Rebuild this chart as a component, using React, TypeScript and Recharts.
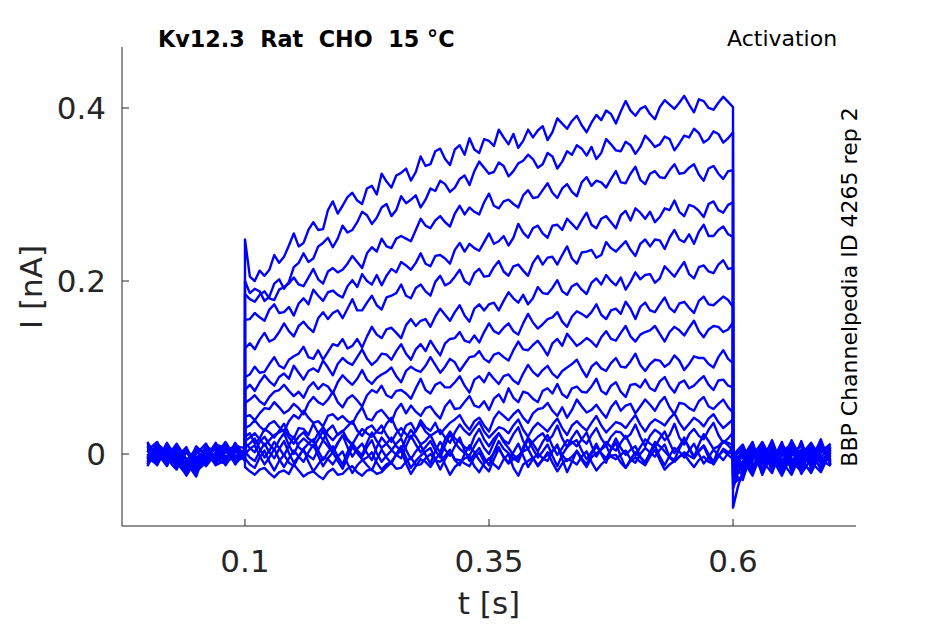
import { LineChart, Line, XAxis, YAxis } from "recharts";

/* ================= DATA (pA) ================= */

// sample times [s], 5 ms grid
const preTimes = Array.from({ length: 21 }, (_, i) => +(i * 0.005).toFixed(3));
const pulseTimes = Array.from({ length: 101 }, (_, i) => +(0.1 + i * 0.005).toFixed(3));
const postTimes = Array.from({ length: 21 }, (_, i) => +(0.6 + i * 0.005).toFixed(3));

const xTicks = [0.1, 0.35, 0.6];
const yTicks = [0, 0.2, 0.4];

// holding before the step: values at 0, 10, ... 100 ms
const preBase = [
  [5, -8, 10, -12, -20, 2, -6, 12, -4, 8, 0],
  [-6, 12, -3, -18, 6, -10, 9, -5, 14, -2, 3],
  [10, -4, 6, -9, -24, -7, 4, -12, 7, -8, 5],
  [-10, 3, -14, 8, -16, 9, -2, 6, -9, 11, -3],
  [2, 14, -7, 4, -12, -22, 10, -8, 3, -6, 6],
  [-3, -12, 9, -6, 3, -14, -5, 13, -10, 4, -5],
  [12, -2, -10, 11, -18, 5, -11, 2, 9, -12, 2],
  [-8, 7, 2, -15, -9, -26, 6, -4, -7, 12, -2],
  [4, -10, 13, -4, 8, -17, -8, 10, -3, -4, 4],
  [-12, 5, -6, 7, -21, 0, 12, -9, 5, 7, -6],
  [8, -6, 4, -13, 2, -11, -3, 7, -13, 2, 1],
  [-4, 10, -11, 3, -7, 6, -14, -1, 11, -9, -4],
  [14, -7, 7, -2, -25, -5, 3, -10, 2, 10, 7],
  [-9, 2, -4, 12, -6, -19, 8, 4, -6, -5, -1],
  [0, -13, 11, -8, 5, -9, -7, 11, 8, -10, 3],
  [-14, 6, -1, 5, -14, 7, 2, -6, -11, 6, -7],
  [6, -3, 8, -11, -8, -20, -10, 9, 4, -3, 2],
  [-2, 9, -9, 2, -23, -4, 5, -13, -8, 13, -9],
];
// holding before the step: values at 5, 15, ... 95 ms
const preHalf = [
  [2, -1, -9, -15, -8, 5, 3, -6, 2, 4],
  [4, 7, -12, -6, -3, -2, 1, 6, 5, -1],
  [3, 1, -2, -17, -15, -3, -5, -1, -2, -2],
  [-4, -6, -2, -5, -3, 3, 2, -3, 1, 4],
  [9, 3, -1, -5, -18, -6, 1, -3, -2, 0],
  [-8, -2, 1, -2, -6, -10, 4, 1, -3, -1],
  [5, -6, 0, -4, -7, -3, -4, 6, -2, -5],
  [-1, 5, -7, -12, -18, -10, 1, -6, 2, 5],
  [-3, 2, 4, 2, -5, -12, 1, 4, -4, 0],
  [-3, -1, 1, -8, -10, 6, 2, -2, 6, 1],
  [1, -1, -5, -6, -5, -7, 2, -3, -5, 2],
  [3, -1, -4, -2, -1, -4, -7, 5, 1, -6],
  [4, 0, 2, -14, -15, -1, -4, -4, 6, 8],
  [-3, -1, 4, 3, -12, -5, 6, -1, -6, -3],
  [-6, -1, 1, -2, -2, -8, 2, 9, -1, -4],
  [-4, 2, 2, -5, -4, 4, -2, -9, -3, -1],
  [2, 3, -2, -10, -14, -15, 0, 6, 0, -1],
  [4, 0, -4, -11, -13, 0, -4, -10, 2, 2],
];

// back to holding: values at 600, 610, ... 700 ms
const postBase = [
  [-62, -20, 5, -10, 8, -15, 3, -8, 12, -5, 0],
  [-40, -8, -25, 6, -12, 10, -18, 4, -6, 9, -10],
  [-35, -28, 2, -16, -4, 7, -9, -20, 5, -3, 6],
  [-30, 4, -18, -2, 12, -22, 0, 9, -13, 6, -4],
  [-28, -14, -6, 10, -20, 3, 11, -7, -2, -15, 8],
  [-25, -30, 8, -12, 1, -8, -24, 2, 10, -9, -2],
  [-22, 0, -20, 4, -14, 12, -5, -11, -19, 3, 10],
  [-20, -18, 10, -24, 6, -3, 8, -16, 0, 11, -12],
  [-18, 6, -12, -7, -22, 9, -14, 5, -9, -21, 2],
  [-15, -24, -3, 14, -8, -17, 4, -2, 13, -6, -14],
  [-12, -10, 12, -19, 3, -6, -12, 15, -17, 4, 7],
  [-10, 2, -22, 0, -11, 14, -20, -4, 7, -11, -1],
  [-8, -16, 4, -9, 16, -13, 6, -23, -5, 14, -7],
  [-6, 8, -14, 7, -17, -1, 13, -9, 3, -18, 5],
  [-5, -21, -8, 11, -5, -25, -2, 10, -14, 8, -9],
  [-3, -5, 14, -20, 9, -11, 16, -6, -22, 1, 12],
  [-2, 11, -16, -4, -13, 5, -8, -17, 9, -8, -5],
  [0, -12, 6, -23, 0, -19, 10, 1, -10, 17, -13],
];
// back to holding: values at 605, 615, ... 695 ms
const postHalf = [
  [-38, -8, -3, 0, -4, -6, -3, 2, 4, -3],
  [-22, -16, -10, -3, -1, -4, -7, -1, 2, -1],
  [-30, -13, -7, -10, 2, -1, -14, -7, 1, 2],
  [-14, -7, -10, 5, -5, -11, 5, -2, -4, 1],
  [-21, -10, 2, -5, -8, 7, 2, -5, -9, -3],
  [-27, -11, -2, -6, -3, -16, -11, 6, 0, -6],
  [-11, -10, -8, -5, -1, 3, -8, -15, -8, 7],
  [-19, -4, -7, -9, 1, 2, -4, -8, 6, -1],
  [-6, -3, -10, -15, -6, -2, -4, -2, -15, -9],
  [-20, -13, 6, 3, -12, -6, 1, 6, 3, -10],
  [-11, 1, -4, -8, -1, -9, 1, -1, -6, 6],
  [-4, -10, -11, -6, 2, -3, -12, 2, -2, -6],
  [-12, -6, -3, 4, 1, -3, -8, -14, 5, 3],
  [1, -3, -4, -5, -9, 6, 2, -3, -7, -6],
  [-13, -15, 2, 3, -15, -13, 4, -2, -3, -1],
  [-4, 5, -3, -6, -1, 3, 5, -14, -10, 7],
  [5, -3, -10, -9, -4, -2, -12, -4, 0, -7],
  [-6, -3, -8, -11, -10, -5, 6, -4, 4, 1],
];

// test step: values at 100, 110, ... 600 ms
const sweep01 = [248, 200, 206, 230, 228, 255, 244, 268, 260, 292, 287, 302, 289, 310, 324, 308, 325, 316, 344, 335, 353, 334, 357, 365, 348, 362, 375, 358, 354, 375, 374, 363, 388, 376, 391, 372, 392, 397, 382, 408, 391, 402, 387, 409, 399, 414, 395, 408, 398, 413, 401];
const sweep02 = [200, 191, 177, 197, 191, 216, 232, 226, 244, 239, 264, 259, 280, 266, 285, 275, 298, 294, 285, 307, 316, 303, 318, 311, 338, 324, 337, 321, 336, 346, 331, 348, 330, 350, 357, 345, 341, 364, 351, 361, 347, 368, 355, 367, 351, 368, 376, 360, 373, 360, 372];
const sweep03 = [185, 176, 188, 178, 193, 204, 194, 214, 197, 215, 213, 229, 215, 239, 249, 238, 252, 246, 272, 261, 275, 263, 287, 285, 277, 301, 284, 294, 285, 305, 297, 313, 296, 312, 298, 320, 316, 308, 327, 313, 332, 312, 327, 319, 335, 325, 335, 316, 333, 318, 328];
const sweep04 = [155, 163, 154, 173, 164, 160, 180, 190, 177, 189, 181, 201, 208, 196, 195, 214, 222, 213, 232, 217, 230, 220, 244, 243, 235, 255, 246, 241, 266, 250, 264, 250, 265, 272, 260, 279, 261, 275, 261, 281, 284, 272, 268, 284, 293, 275, 286, 274, 292, 279, 291];
const sweep05 = [122, 121, 140, 133, 151, 136, 153, 141, 164, 163, 157, 179, 166, 183, 167, 183, 196, 180, 196, 183, 206, 198, 213, 196, 214, 206, 223, 206, 219, 206, 229, 227, 219, 240, 220, 234, 227, 245, 234, 246, 229, 248, 248, 237, 259, 245, 243, 265, 252, 263, 251];
const sweep06 = [89, 101, 95, 112, 99, 113, 124, 110, 109, 127, 133, 125, 123, 147, 134, 146, 134, 156, 154, 147, 168, 154, 172, 153, 173, 173, 166, 187, 175, 173, 193, 185, 201, 184, 197, 185, 203, 207, 195, 190, 210, 207, 198, 217, 205, 222, 203, 218, 209, 224, 215];
const sweep07 = [74, 73, 91, 79, 93, 102, 86, 99, 108, 91, 111, 103, 121, 103, 116, 109, 127, 109, 127, 131, 114, 133, 141, 129, 129, 151, 139, 151, 138, 162, 145, 156, 164, 147, 165, 158, 173, 156, 168, 176, 156, 175, 164, 181, 164, 176, 163, 182, 172, 182, 170];
const sweep08 = [59, 68, 57, 72, 80, 67, 65, 83, 81, 70, 91, 80, 97, 81, 92, 100, 83, 101, 95, 112, 94, 110, 96, 112, 119, 106, 117, 108, 130, 120, 131, 114, 133, 139, 125, 134, 124, 142, 131, 148, 130, 141, 148, 130, 147, 137, 154, 135, 148, 141, 152];
const sweep09 = [43, 39, 53, 60, 47, 58, 46, 66, 57, 72, 54, 68, 55, 74, 79, 65, 74, 64, 87, 70, 83, 77, 90, 71, 90, 94, 81, 92, 81, 103, 90, 102, 88, 100, 109, 89, 106, 96, 111, 100, 116, 96, 109, 101, 114, 97, 113, 111, 100, 120, 105];
const sweep10 = [30, 39, 27, 38, 26, 45, 50, 36, 32, 46, 44, 35, 54, 39, 51, 37, 58, 56, 44, 55, 41, 62, 53, 67, 54, 51, 69, 76, 60, 70, 60, 76, 81, 65, 78, 71, 87, 69, 83, 66, 81, 86, 73, 89, 71, 85, 79, 90, 74, 86, 77];
const sweep11 = [20, 12, 29, 19, 35, 18, 29, 35, 16, 33, 26, 38, 21, 33, 24, 42, 20, 36, 39, 27, 23, 36, 45, 28, 42, 26, 49, 39, 51, 36, 52, 59, 44, 42, 63, 48, 57, 42, 61, 56, 47, 63, 50, 66, 46, 58, 50, 66, 52, 63, 48];
const sweep12 = [15, 24, 10, 22, 28, 12, 25, 14, 31, 16, 27, 11, 29, 20, 33, 14, 30, 18, 35, 21, 28, 13, 34, 22, 37, 19, 31, 24, 40, 20, 36, 26, 41, 22, 38, 27, 44, 25, 37, 30, 45, 26, 40, 33, 47, 28, 42, 32, 46, 30, 40];
const sweep13 = [12, 2, 20, 5, 24, 0, 18, 8, 27, 3, 21, 10, -1, 25, 7, 19, 4, 28, 11, 22, 2, 26, 14, 5, 29, 9, 24, 12, 31, 6, 20, 15, 33, 8, 27, 12, 30, 10, 26, 18, 34, 9, 28, 16, 35, 11, 29, 17, 36, 13, 25];
const sweep14 = [8, 18, -4, 14, -2, 20, 3, -6, 16, 1, 22, -3, 12, -7, 19, 5, -5, 21, 2, 15, -4, 23, 6, -2, 18, 0, 24, 7, -6, 19, 3, 22, -1, 16, 9, 25, -3, 14, 4, 21, -2, 17, 8, 26, 1, 19, -4, 23, 6, 15, 10];
const sweep15 = [3, -8, 12, -5, 15, -10, 6, 17, -7, 9, -12, 13, -3, 16, -9, 4, 18, -6, 10, -11, 14, -2, 19, -8, 7, -13, 15, 1, -9, 17, -4, 11, -14, 8, 16, -6, 12, -10, 18, -1, 9, -12, 14, 3, -7, 17, -3, 10, -9, 15, 4];
const sweep16 = [0, 10, -12, 6, -15, 4, -9, 11, -14, 2, -17, 8, -6, -19, 5, -11, 9, -16, -2, 7, -18, 3, -13, 10, -7, -20, 6, -10, 12, -15, 1, -8, 11, -21, 4, -12, 9, -5, 13, -16, 2, -9, 10, -13, 7, -4, 12, -11, 5, -7, 8];
const sweep17 = [-5, -16, 4, -19, -1, -14, 6, -20, -4, -12, 3, -22, -7, 2, -18, -9, 4, -23, -6, -15, 1, -24, -10, -3, -21, -5, -17, 0, -25, -8, -14, 2, -20, -6, -12, 3, -19, -7, -1, -16, -4, -13, 5, -18, -8, 0, -15, -3, -11, 4, -6];
const sweep18 = [-15, -24, -16, -27, -19, -12, -26, -20, -29, -17, -23, -14, -25, -18, -21, -10, -16, -4, -12, 0, -9, 5, -7, -14, 2, -6, 8, -11, -2, 6, -13, -1, 9, -8, 3, -15, 1, 10, -6, 4, -10, 7, -3, 11, -9, 2, -5, 9, -12, 6, 0];

// test step: values at 105, 115, ... 595 ms
const sweep01h = [205, 212, 213, 221, 241, 240, 259, 259, 282, 278, 297, 293, 307, 300, 315, 322, 330, 326, 333, 350, 341, 352, 346, 352, 364, 356, 366, 370, 362, 366, 379, 372, 382, 385, 380, 383, 386, 393, 396, 397, 399, 393, 401, 404, 406, 404, 410, 400, 406, 407];
const sweep02h = [186, 188, 182, 202, 199, 221, 222, 240, 250, 249, 256, 268, 276, 273, 289, 282, 290, 299, 294, 304, 312, 308, 322, 327, 331, 326, 333, 327, 339, 341, 335, 344, 338, 346, 353, 355, 348, 358, 350, 357, 355, 362, 358, 364, 359, 366, 371, 364, 370, 365];
const sweep03h = [179, 184, 180, 190, 197, 196, 204, 202, 211, 210, 220, 222, 232, 234, 240, 249, 249, 259, 264, 270, 268, 278, 277, 280, 291, 287, 292, 289, 299, 296, 305, 302, 307, 303, 314, 310, 314, 318, 314, 324, 317, 324, 320, 328, 324, 331, 323, 330, 324, 327];
const sweep04h = [156, 158, 167, 163, 170, 174, 173, 183, 187, 184, 194, 193, 200, 207, 206, 210, 218, 221, 220, 229, 226, 236, 234, 238, 245, 243, 252, 250, 256, 261, 255, 264, 259, 266, 270, 265, 272, 268, 276, 270, 279, 280, 274, 282, 280, 288, 281, 289, 282, 288];
const sweep05h = [128, 132, 130, 141, 142, 148, 146, 157, 156, 166, 168, 166, 175, 172, 181, 186, 183, 192, 188, 199, 195, 205, 200, 209, 205, 216, 211, 217, 212, 221, 219, 228, 230, 226, 233, 236, 230, 238, 240, 236, 243, 240, 247, 250, 248, 254, 257, 252, 259, 254];
const sweep06h = [92, 94, 104, 102, 109, 116, 112, 120, 118, 125, 122, 133, 136, 138, 144, 140, 149, 148, 156, 159, 161, 164, 160, 168, 166, 175, 177, 180, 184, 180, 186, 192, 188, 194, 190, 198, 196, 200, 204, 199, 202, 208, 203, 211, 214, 208, 216, 211, 219, 214];
const sweep07h = [80, 83, 84, 89, 87, 94, 96, 95, 100, 104, 106, 112, 110, 108, 115, 119, 116, 121, 119, 122, 128, 134, 131, 137, 141, 142, 146, 142, 151, 152, 150, 158, 153, 159, 162, 164, 161, 166, 162, 168, 170, 166, 173, 169, 174, 169, 177, 173, 177, 178];
const sweep08h = [63, 61, 66, 74, 73, 72, 77, 75, 78, 83, 85, 87, 86, 88, 95, 90, 96, 97, 102, 103, 101, 106, 104, 113, 110, 115, 112, 120, 121, 126, 123, 128, 125, 132, 129, 130, 135, 133, 140, 136, 138, 143, 139, 141, 143, 146, 142, 144, 147, 144];
const sweep09h = [45, 47, 52, 54, 51, 53, 59, 60, 63, 60, 64, 62, 68, 71, 68, 73, 70, 76, 74, 80, 77, 83, 79, 86, 83, 87, 90, 85, 93, 95, 97, 93, 96, 104, 98, 101, 99, 105, 101, 107, 103, 104, 108, 105, 108, 104, 111, 104, 112, 110];
const sweep10h = [33, 32, 35, 31, 38, 41, 42, 38, 44, 40, 38, 46, 41, 48, 44, 51, 47, 49, 53, 47, 55, 52, 60, 56, 61, 64, 60, 65, 72, 64, 73, 70, 69, 76, 72, 78, 73, 79, 72, 80, 77, 76, 84, 78, 82, 76, 85, 80, 85, 79];
const sweep11h = [24, 18, 25, 27, 23, 30, 22, 24, 28, 22, 32, 27, 30, 25, 35, 29, 33, 26, 31, 36, 30, 40, 35, 38, 33, 41, 44, 46, 42, 47, 53, 50, 54, 51, 55, 51, 49, 54, 50, 58, 55, 57, 60, 54, 59, 53, 61, 55, 58, 54];
const sweep12h = [19, 17, 16, 25, 19, 20, 18, 24, 22, 23, 17, 21, 24, 26, 22, 24, 23, 27, 26, 25, 19, 25, 27, 30, 26, 25, 29, 33, 28, 30, 31, 34, 30, 33, 32, 36, 33, 31, 35, 38, 34, 35, 37, 41, 36, 35, 38, 41, 37, 35];
const sweep13h = [7, 14, 11, 16, 10, 12, 13, 17, 14, 13, 16, 4, 13, 15, 12, 9, 18, 20, 15, 10, 17, 18, 8, 20, 17, 18, 16, 23, 15, 14, 24, 21, 18, 19, 17, 22, 18, 20, 25, 23, 20, 21, 24, 22, 19, 23, 21, 28, 22, 18];
const sweep14h = [12, 6, 4, 7, 10, 8, -2, 5, 9, 12, 8, 6, 1, 8, 12, -1, 9, 11, 8, 4, 10, 13, 1, 9, 7, 13, 14, -1, 8, 12, 14, 9, 7, 14, 17, 10, 6, 8, 13, 10, 8, 12, 18, 13, 9, 6, 11, 15, 9, 13];
const sweep15h = [-4, 3, 2, 6, 1, -3, 12, 4, 2, -3, 2, 4, 8, 1, -2, 12, 5, 3, -1, 4, 5, 9, 4, 0, -4, 2, 6, -5, 5, 6, 3, -2, -1, 13, 4, 2, 0, 6, 7, 5, -3, 2, 9, -3, 6, 8, 4, 0, 5, 10];
const sweep16h = [6, -2, -4, -6, -5, -3, 2, -2, -5, -8, -4, 1, -13, -6, -4, 0, -4, -8, 3, -6, -6, -7, 0, 2, -14, -6, -3, 2, -2, -6, -5, 3, -6, -9, -5, 0, 1, 5, -3, -6, -4, 1, -3, -2, 3, 4, 0, -4, -1, 1];
const sweep17h = [-12, -4, -9, -8, -10, -3, -9, -12, -6, -3, -11, -13, -4, -10, -12, -1, -11, -14, -9, -6, -12, -15, -5, -14, -11, -12, -6, -16, -12, -4, -7, -10, -11, -8, -3, -9, -12, -2, -10, -8, -9, -3, -7, -12, -3, -8, -7, -9, -2, -1];
const sweep18h = [-20, -18, -22, -21, -23, -19, -22, -25, -21, -24, -17, -21, -19, -23, -15, -17, -9, -13, -5, -7, -2, -6, -11, -4, -9, 1, -4, -6, 3, -5, -6, 4, -1, -3, -7, -4, 5, -3, -1, -6, 0, 2, 5, -4, -3, -2, 3, -4, -3, 2];

const sweeps = [
  sweep01, sweep02, sweep03, sweep04, sweep05, sweep06,
  sweep07, sweep08, sweep09, sweep10, sweep11, sweep12,
  sweep13, sweep14, sweep15, sweep16, sweep17, sweep18,
];
const sweepsHalf = [
  sweep01h, sweep02h, sweep03h, sweep04h, sweep05h, sweep06h,
  sweep07h, sweep08h, sweep09h, sweep10h, sweep11h, sweep12h,
  sweep13h, sweep14h, sweep15h, sweep16h, sweep17h, sweep18h,
];

/* ================= TABLE ================= */

// put the 10 ms and 5 ms-offset samples back in time order
const merge = (whole: number[], half: number[]) =>
  whole.flatMap((v, i) => (i < half.length ? [v, half[i]] : [v]));

const times = [...preTimes, ...pulseTimes, ...postTimes];

const traces = sweeps.map((sw, k) => [
  ...merge(preBase[k], preHalf[k]),
  ...merge(sw, sweepsHalf[k]),
  ...merge(postBase[k], postHalf[k]),
]);

const rows = times.map((t, i) => {
  const row: Record<string, number> = { t };
  traces.forEach((tr, k) => {
    row[`s${k}`] = tr[i] / 1000; // pA -> nA
  });
  return row;
});

/* ================= TICKS ================= */

const XTick = ({ x, y, payload }: any) => (
  <g>
    <line x1={x} x2={x} y1={y} y2={y - 7} stroke="#262626" strokeWidth={1} />
    <text x={x} y={y + 46} textAnchor="middle" style={tickText}>
      {String(payload.value)}
    </text>
  </g>
);

const YTick = ({ x, y, payload }: any) => (
  <g>
    <line x1={x} x2={x + 7} y1={y} y2={y} stroke="#262626" strokeWidth={1} />
    <text x={x - 16} y={y + 11} textAnchor="end" style={tickText}>
      {String(payload.value)}
    </text>
  </g>
);

export default function App() {
  return (
    <div style={page}>
      <LineChart
        width={945}
        height={624}
        data={rows}
        margin={{ top: 47, right: 89, bottom: 68, left: 62 }}
      >
        <XAxis
          dataKey="t"
          type="number"
          domain={[-0.026, 0.726]}
          ticks={xTicks}
          interval={0}
          allowDataOverflow
          height={30}
          tickSize={0}
          tickMargin={0}
          tickLine={false}
          tick={<XTick />}
          axisLine={{ stroke: "#262626", strokeWidth: 1 }}
        />
        <YAxis
          type="number"
          domain={[-0.0832, 0.4705]}
          ticks={yTicks}
          interval={0}
          allowDataOverflow
          width={60}
          tickSize={0}
          tickMargin={0}
          tickLine={false}
          tick={<YTick />}
          axisLine={{ stroke: "#262626", strokeWidth: 1 }}
        />
        {traces.map((_, k) => (
          <Line
            key={k}
            dataKey={`s${k}`}
            type="linear"
            stroke="#0000ff"
            strokeWidth={2.4}
            strokeLinejoin="round"
            dot={false}
            activeDot={false}
            isAnimationActive={false}
          />
        ))}
      </LineChart>

      {/* TEXT OVERLAY */}
      <svg width={945} height={624} style={overlay}>
        <text x={158} y={47} style={titleText}>
          Kv12.3  Rat  CHO  15 °C
        </text>
        <text x={727} y={46} style={sideText}>
          Activation
        </text>
        <text
          x={857}
          y={287}
          textAnchor="middle"
          transform="rotate(-90 857 287)"
          style={sideText}
        >
          BBP Channelpedia ID 4265 rep 2
        </text>
        <text x={489} y={614} textAnchor="middle" style={labelText}>
          t [s]
        </text>
        <text
          x={42}
          y={287}
          textAnchor="middle"
          transform="rotate(-90 42 287)"
          style={labelText}
        >
          I [nA]
        </text>
      </svg>
    </div>
  );
}

/* ================= STYLES ================= */

const page = {
  position: "absolute" as const,
  left: 0,
  top: 0,
  width: 945,
  height: 624,
  background: "#ffffff",
};

const overlay = {
  position: "absolute" as const,
  left: 0,
  top: 0,
  pointerEvents: "none" as const,
};

const tickText = {
  fontFamily: "DejaVu Sans",
  fontSize: 31,
  fill: "#262626",
};

const labelText = {
  fontFamily: "DejaVu Sans",
  fontSize: 31,
  fill: "#262626",
};

const titleText = {
  fontFamily: "DejaVu Sans",
  fontSize: 22.3,
  fontWeight: "bold" as const,
  fill: "#000000",
  whiteSpace: "pre" as const,
};

const sideText = {
  fontFamily: "DejaVu Sans",
  fontSize: 22,
  fill: "#000000",
};
